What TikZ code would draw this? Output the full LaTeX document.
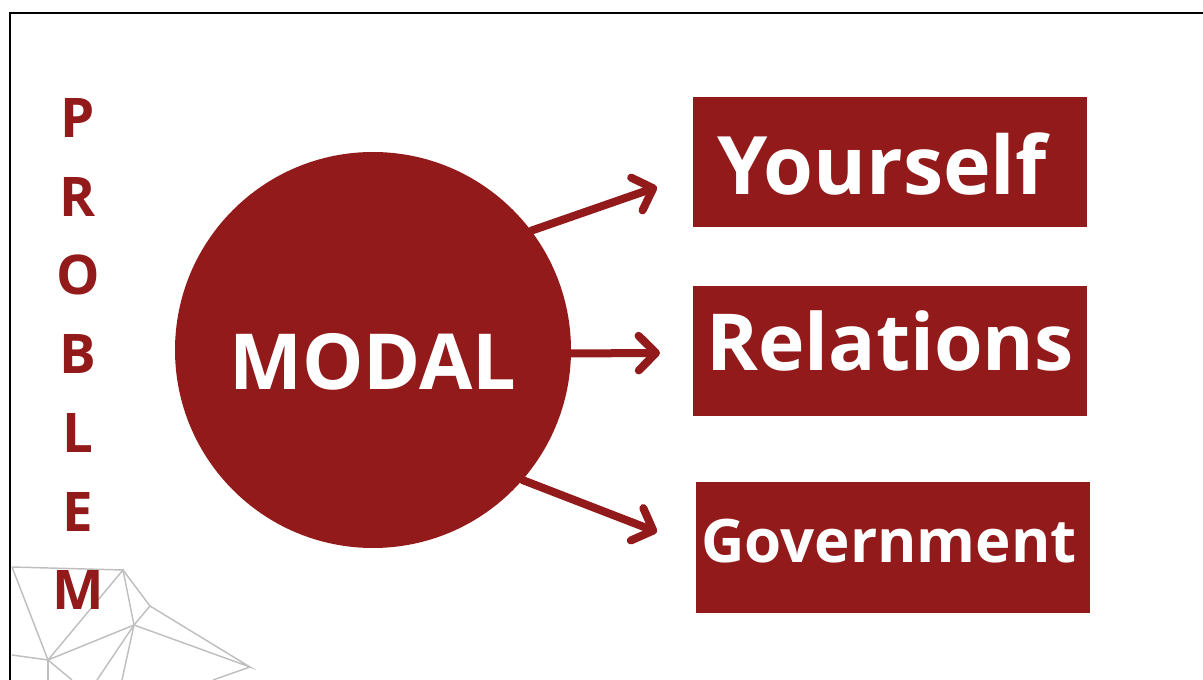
\documentclass[tikz,border=0pt]{standalone}
\usepackage{fontspec}
\setmainfont{Open Sans}
\usepackage{xcolor}
\usepackage{tikz}
\usetikzlibrary{arrows.meta,positioning}
\definecolor{modalred}{HTML}{931A1A}
\tikzset{
  hub/.style={circle,fill=modalred,text=white,inner sep=0pt,minimum size=297pt,
    font=\bfseries\fontsize{58}{60}\selectfont,text height=60pt,text depth=0pt},
  target/.style={rectangle,fill=modalred,text=white,inner sep=0pt,
    minimum width=295.5pt,minimum height=97.5pt,text depth=0pt},
  link/.style={modalred,line width=6pt,line cap=round,
    -{Straight Barb[length=13pt,width=26pt,round]}},
  mesh/.style={gray!50,line width=1.1pt}
}

\begin{document}
\begin{tikzpicture}[x=0.75pt,y=-0.75pt]
        % Page frame
        \useasboundingbox (0,0) rectangle (1203,680);
        \draw[line width=2.2pt] (10,680) -- (10,13) -- (1203,13);

        % Mesh in the lower left corner
        \coordinate (ma) at (12,567);
        \coordinate (mb) at (123,570);
        \coordinate (mc) at (150,606);
        \coordinate (md) at (134,625);
        \coordinate (me) at (48,660);
        \coordinate (mf) at (250,667);
        \coordinate (mg) at (12,655);
        \draw[mesh] (ma) -- (mb) -- (mc) -- (mf) -- (md) -- (mc);
        \draw[mesh] (ma) -- (me) -- (mb) -- (md) -- (me) -- (mg);
        \draw[mesh] (me) -- (48,680);
        \draw[mesh] (me) -- (72,680);
        \draw[mesh] (md) -- (97,680);
        \draw[mesh] (md) -- (122,680);
        \draw[mesh] (mf) -- (213,680);

        % Vertical word
        \foreach \l [count=\k from 0] in {P,R,O,B,L,E,M}
            \node[text=modalred,font=\bfseries\fontsize{41}{43}\selectfont]
                (let\k) at (78,118+\k*78.7) {\l};

        % Centre and targets
        \node[hub] (modal) at (373,350) {MODAL};
        \node[target,text height=49pt,font=\bfseries\fontsize{60.5}{62}\selectfont]
            (yourself) at (890,162) {Yourself\kern 12pt};
        \node[target,text height=27.8pt,font=\bfseries\fontsize{59}{61}\selectfont]
            (relations) at (890,351.5) {Relations};
        \node[target,text height=21.8pt,font=\bfseries\fontsize{45}{47}\selectfont]
            (government) at (893,547.5) {Government\kern 6pt};

        % Arrow ends
        \coordinate (toyou) at (657,187);
        \coordinate (torel) at (660,353);
        \coordinate (togov) at (657,532);

        \draw[link] (modal.37) -- (toyou);
        \draw[link] (modal.-1) -- (torel);
        \draw[link] (modal.-41) -- (togov);
    \end{tikzpicture}
\end{document}
